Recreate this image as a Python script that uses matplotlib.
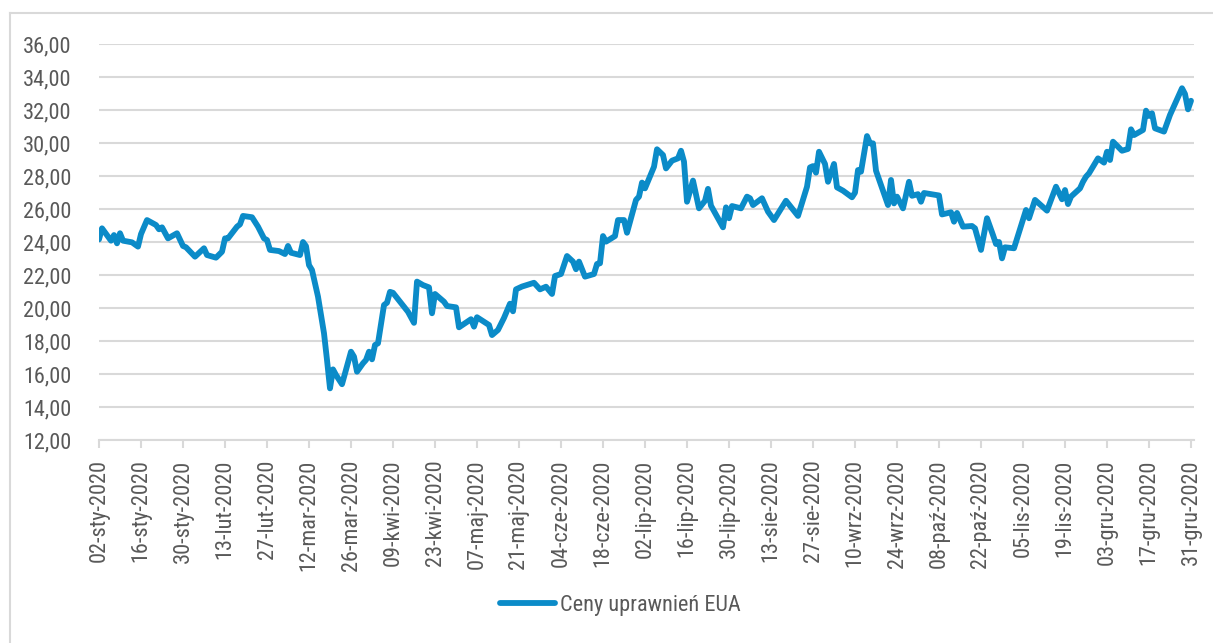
import matplotlib
matplotlib.use("Agg")
import matplotlib.pyplot as plt
import matplotlib.ticker as ticker
import matplotlib.dates as mdates
from matplotlib.lines import Line2D
import pandas as pd

plt.rcParams['font.family'] = ['Roboto Condensed', 'Liberation Sans Narrow', 'Roboto', 'DejaVu Sans']

# EUA prices 2020
dates = [
    "2020-01-02", "2020-01-03", "2020-01-06", "2020-01-07", "2020-01-08", "2020-01-09", "2020-01-10",
    "2020-01-13", "2020-01-15", "2020-01-16", "2020-01-18", "2020-01-21", "2020-01-22", "2020-01-23",
    "2020-01-25", "2020-01-28", "2020-01-30", "2020-01-31",
    "2020-02-03", "2020-02-06", "2020-02-07", "2020-02-10", "2020-02-12", "2020-02-13", "2020-02-14",
    "2020-02-17", "2020-02-18", "2020-02-19", "2020-02-22", "2020-02-24", "2020-02-26", "2020-02-27",
    "2020-02-28",
    "2020-03-02", "2020-03-04", "2020-03-05", "2020-03-06", "2020-03-09", "2020-03-10", "2020-03-11",
    "2020-03-12", "2020-03-13", "2020-03-15", "2020-03-17", "2020-03-18", "2020-03-19", "2020-03-20",
    "2020-03-21", "2020-03-23", "2020-03-26", "2020-03-27", "2020-03-28", "2020-03-30", "2020-03-31",
    "2020-04-01", "2020-04-02", "2020-04-03", "2020-04-04", "2020-04-06", "2020-04-07", "2020-04-08",
    "2020-04-09", "2020-04-14", "2020-04-16", "2020-04-17", "2020-04-19", "2020-04-21", "2020-04-22",
    "2020-04-23", "2020-04-26", "2020-04-27", "2020-04-30",
    "2020-05-01", "2020-05-05", "2020-05-06", "2020-05-07", "2020-05-11", "2020-05-12", "2020-05-14",
    "2020-05-16", "2020-05-18", "2020-05-19", "2020-05-20", "2020-05-22", "2020-05-26", "2020-05-28",
    "2020-05-30",
    "2020-06-01", "2020-06-02", "2020-06-04", "2020-06-06", "2020-06-08", "2020-06-09", "2020-06-10",
    "2020-06-12", "2020-06-15", "2020-06-16", "2020-06-17", "2020-06-18", "2020-06-19", "2020-06-22",
    "2020-06-23", "2020-06-25", "2020-06-26", "2020-06-29", "2020-06-30",
    "2020-07-01", "2020-07-02", "2020-07-05", "2020-07-06", "2020-07-08", "2020-07-09", "2020-07-11",
    "2020-07-13", "2020-07-14", "2020-07-15", "2020-07-16", "2020-07-18", "2020-07-20", "2020-07-22",
    "2020-07-23", "2020-07-24", "2020-07-28", "2020-07-29", "2020-07-30", "2020-07-31",
    "2020-08-03", "2020-08-05", "2020-08-06", "2020-08-07", "2020-08-10", "2020-08-12", "2020-08-14",
    "2020-08-18", "2020-08-22", "2020-08-25", "2020-08-26", "2020-08-27", "2020-08-28", "2020-08-29",
    "2020-08-31",
    "2020-09-01", "2020-09-03", "2020-09-04", "2020-09-06", "2020-09-09", "2020-09-10", "2020-09-11",
    "2020-09-12", "2020-09-14", "2020-09-15", "2020-09-16", "2020-09-17", "2020-09-21", "2020-09-22",
    "2020-09-23", "2020-09-24", "2020-09-26", "2020-09-28", "2020-09-29",
    "2020-10-01", "2020-10-02", "2020-10-03", "2020-10-06", "2020-10-08", "2020-10-09", "2020-10-12",
    "2020-10-13", "2020-10-14", "2020-10-16", "2020-10-19", "2020-10-20", "2020-10-22", "2020-10-24",
    "2020-10-26", "2020-10-27", "2020-10-28", "2020-10-29", "2020-10-30",
    "2020-11-02", "2020-11-06", "2020-11-07", "2020-11-09", "2020-11-13", "2020-11-16", "2020-11-18",
    "2020-11-19", "2020-11-20", "2020-11-21", "2020-11-24", "2020-11-25", "2020-11-26", "2020-11-27",
    "2020-11-30",
    "2020-12-02", "2020-12-03", "2020-12-04", "2020-12-05", "2020-12-08", "2020-12-10", "2020-12-11",
    "2020-12-12", "2020-12-15", "2020-12-16", "2020-12-17", "2020-12-18", "2020-12-19", "2020-12-22",
    "2020-12-23", "2020-12-24", "2020-12-28", "2020-12-29", "2020-12-30", "2020-12-31",
]
prices = [
    24.16, 24.83, 24.08, 24.42, 23.92, 24.53, 24.08,
    23.98, 23.72, 24.48, 25.33, 25.03, 24.77, 24.89,
    24.22, 24.53, 23.76, 23.68,
    23.11, 23.62, 23.21, 23.05, 23.41, 24.22, 24.22,
    24.93, 25.07, 25.58, 25.50, 24.93, 24.22, 24.12,
    23.52,
    23.45, 23.27, 23.76, 23.35, 23.21, 24.00, 23.75,
    22.60, 22.30, 20.69, 18.47, 16.85, 15.13, 16.28,
    15.94, 15.38, 17.35, 17.05, 16.14, 16.65, 16.85,
    17.35, 16.89, 17.76, 17.86, 20.18, 20.32, 20.98,
    20.92, 19.77, 19.10, 21.60, 21.39, 21.25, 19.68,
    20.85, 20.38, 20.12, 20.04,
    18.83, 19.32, 18.87, 19.44, 18.97, 18.36, 18.67,
    19.40, 20.26, 19.80, 21.13, 21.30, 21.53, 21.13,
    21.29,
    20.85, 21.94, 22.06, 23.15, 22.81, 22.35, 22.81,
    21.90, 22.06, 22.67, 22.71, 24.36, 24.02, 24.36,
    25.33, 25.33, 24.56, 26.55, 26.75,
    27.60, 27.25, 28.56, 29.62, 29.27, 28.46, 28.93,
    29.07, 29.53, 28.87, 26.44, 27.72, 26.04, 26.50,
    27.22, 26.20, 24.89, 26.10, 25.44, 26.18,
    26.04, 26.75, 26.65, 26.24, 26.65, 25.84, 25.33,
    26.50, 25.58, 27.35, 28.52, 28.60, 28.20, 29.47,
    28.73,
    27.65, 28.73, 27.31, 27.11, 26.71, 26.99, 28.36,
    28.26, 30.42, 29.98, 29.98, 28.32, 26.24, 27.76,
    26.34, 26.75, 26.04, 27.65, 26.80,
    26.90, 26.44, 26.97, 26.88, 26.82, 25.67, 25.80,
    25.23, 25.76, 24.93, 24.97, 24.83, 23.52, 25.44,
    24.42, 23.88, 24.00, 23.01, 23.68,
    23.62, 25.94, 25.44, 26.55, 25.90, 27.35, 26.59,
    27.15, 26.30, 26.75, 27.25, 27.65, 27.96, 28.16,
    29.07,
    28.81, 29.47, 28.97, 30.08, 29.53, 29.64, 30.83,
    30.48, 30.79, 31.96, 31.64, 31.80, 30.89, 30.69,
    31.19, 31.70, 33.32, 32.97, 32.04, 32.56,
]
months_pl = ["sty", "lut", "mar", "kwi", "maj", "cze", "lip", "sie", "wrz", "paź", "lis", "gru"]
y_ticks = [12, 14, 16, 18, 20, 22, 24, 26, 28, 30, 32, 34, 36]
series_name = "Ceny uprawnień EUA"

line_color = "#0B8BC8"
grid_color = "#D9D9D9"
text_color = "#595959"
fs = 16

W, H = 1213, 643
fig = plt.figure(figsize=(W / 100, H / 100), dpi=100)
ax = fig.add_axes([99 / W, 1 - 440 / H, (1194 - 99) / W, (440 - 44) / H])

x = pd.to_datetime(dates)
ax.plot(x, prices, color=line_color, lw=4.2, solid_joinstyle="round",
        solid_capstyle="round", label=series_name)

ax.set_ylim(12, 36)
ax.set_yticks(y_ticks)
ax.yaxis.set_major_formatter(ticker.FuncFormatter(lambda v, p: f"{v:.2f}".replace(".", ",")))

ax.set_xlim(pd.Timestamp("2020-01-02"), pd.Timestamp("2021-01-01"))
ax.set_xticks(pd.date_range("2020-01-02", "2020-12-31", freq="14D"))


def fmt_date(v, pos):
    d = mdates.num2date(v)
    return f"{d.day:02d}-{months_pl[d.month - 1]}-{d.year}"


ax.xaxis.set_major_formatter(ticker.FuncFormatter(fmt_date))

ax.grid(axis="y", color=grid_color, lw=1.5)
ax.set_axisbelow(True)
for s in ["left", "right", "top"]:
    ax.spines[s].set_visible(False)
ax.spines["bottom"].set_color(grid_color)
ax.spines["bottom"].set_linewidth(1.5)

ax.tick_params(axis="x", length=6, width=1.5, color=grid_color, pad=8,
               labelrotation=90, labelsize=fs, labelcolor=text_color)
ax.tick_params(axis="y", length=0, pad=20, labelsize=fs, labelcolor=text_color)

leg = fig.legend(loc="center", bbox_to_anchor=(620 / W, 1 - 605 / H), frameon=False,
                 fontsize=fs, handlelength=2.5, handletextpad=0.2)
for t in leg.get_texts():
    t.set_color(text_color)

# outer frame (left and top edges visible)
fig.add_artist(Line2D([10 / W, 10 / W], [0, 1 - 13 / H], transform=fig.transFigure,
                      color=grid_color, lw=1.5))
fig.add_artist(Line2D([10 / W, 1], [1 - 13 / H, 1 - 13 / H], transform=fig.transFigure,
                      color=grid_color, lw=1.5))

fig.savefig("out.png", dpi=100)
